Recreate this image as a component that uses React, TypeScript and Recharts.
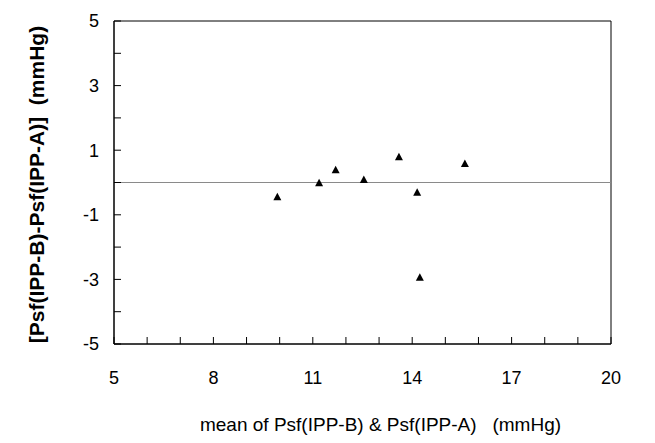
import React from "react";
import {
    ScatterChart,
    Scatter,
    XAxis,
    YAxis,
    ReferenceLine,
    ReferenceArea,
} from "recharts";

// mean of the two readings (mmHg)
const meanValues = [9.93, 11.19, 11.69, 12.54, 13.6, 14.15, 14.23, 15.59];
// difference B - A (mmHg)
const diffValues = [-0.46, -0.02, 0.38, 0.08, 0.78, -0.32, -2.95, 0.57];

const xTicks = [5, 6, 7, 8, 9, 10, 11, 12, 13, 14, 15, 16, 17, 18, 19, 20];
const xTickLabels = [5, 8, 11, 14, 17, 20];
const yTicks = [-5, -4, -3, -2, -1, 0, 1, 2, 3, 4, 5];
const yTickLabels = [-5, -3, -1, 1, 3, 5];

const xTitle = "mean of Psf(IPP-B) & Psf(IPP-A)   (mmHg)";
const yTitle = "[Psf(IPP-B)-Psf(IPP-A)]  (mmHg)";

const FONT = '"Liberation Sans", Arial, Helvetica, sans-serif';

const points = meanValues.map((m, i) => ({ mean: m, diff: diffValues[i] }));

const Triangle = (props: any) => {
    const { cx, cy } = props;
    if (cx == null || cy == null) return null;
    return (
        <polygon
            points={`${cx},${cy - 4.5} ${cx + 4},${cy + 3} ${cx - 4},${cy + 3}`}
            fill="#000"
        />
    );
};

const App: React.FC = () => {
    const tickStyle = { fill: "#000", fontSize: 18, fontFamily: FONT };

    return (
        <div style={{ position: "absolute", left: 0, top: 0, background: "#fff" }}>
            <ScatterChart
                width={655}
                height={443}
                margin={{ top: 21, right: 44, bottom: 0, left: 0 }}
                style={{ fontFamily: FONT }}
            >
                <XAxis
                    type="number"
                    dataKey="mean"
                    domain={[5, 20]}
                    ticks={xTicks}
                    interval={0}
                    height={99}
                    tickSize={-7}
                    tickMargin={34}
                    axisLine={{ stroke: "#000" }}
                    tickLine={{ stroke: "#000" }}
                    tick={tickStyle}
                    tickFormatter={(v: number) =>
                        xTickLabels.includes(v) ? String(v) : ""
                    }
                    label={(p: any) => {
                        const vb = p.viewBox || { x: 114, y: 344, width: 497, height: 99 };
                        return (
                            <text
                                x={vb.x + vb.width / 2 + 18}
                                y={vb.y + vb.height - 12}
                                textAnchor="middle"
                                fill="#000"
                                style={{ fontSize: 19, fontFamily: FONT, whiteSpace: "pre" }}
                            >
                                {xTitle}
                            </text>
                        );
                    }}
                />
                <YAxis
                    type="number"
                    dataKey="diff"
                    domain={[-5, 5]}
                    ticks={yTicks}
                    interval={0}
                    width={114}
                    tickSize={-7}
                    tickMargin={22}
                    axisLine={{ stroke: "#000" }}
                    tickLine={{ stroke: "#000" }}
                    tick={tickStyle}
                    tickFormatter={(v: number) =>
                        yTickLabels.includes(v) ? String(v) : ""
                    }
                    label={(p: any) => {
                        const vb = p.viewBox || { x: 0, y: 21, width: 114, height: 323 };
                        const cx = vb.x + 36;
                        const cy = vb.y + vb.height / 2 + 2;
                        return (
                            <text
                                x={cx}
                                y={cy}
                                transform={`rotate(-90, ${cx}, ${cy})`}
                                textAnchor="middle"
                                dominantBaseline="central"
                                fill="#000"
                                style={{
                                    fontSize: 21,
                                    fontWeight: 700,
                                    fontFamily: FONT,
                                    whiteSpace: "pre",
                                }}
                            >
                                {yTitle}
                            </text>
                        );
                    }}
                />
                <ReferenceArea
                    x1={5}
                    x2={20}
                    y1={-5}
                    y2={5}
                    fill="none"
                    stroke="#000"
                    strokeWidth={1}
                    fillOpacity={0}
                />
                <ReferenceLine y={0} stroke="#8a8a8a" strokeWidth={1.2} />
                <Scatter data={points} shape={<Triangle />} isAnimationActive={false} />
            </ScatterChart>
        </div>
    );
};

export default App;
